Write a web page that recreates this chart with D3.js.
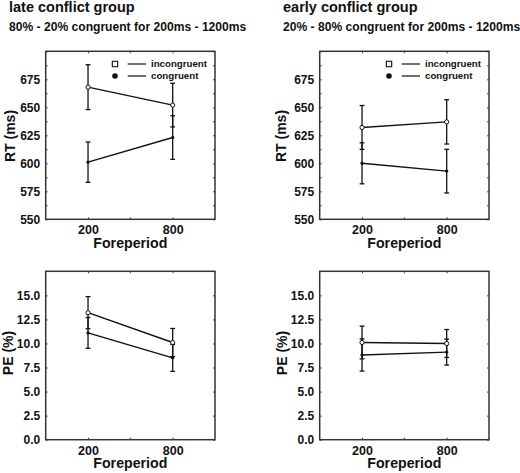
<!DOCTYPE html>
<html>
<head>
<meta charset="utf-8">
<script src="https://cdn.jsdelivr.net/npm/d3@7"></script>
<style>
  body { margin: 0; background: #fff; }
  svg { display: block; }
  text { font-family: "Liberation Sans", Arial, Helvetica, sans-serif; font-weight: bold; fill: #111; }
</style>
</head>
<body>
<svg id="chart" width="520" height="473"></svg>
<script>
// ---- data ----
const categories = ["200", "800"];
const rtTicks = [550, 575, 600, 625, 650, 675];
const rtMinorTicks = [550, 562.5, 575, 587.5, 600, 612.5, 625, 637.5, 650, 662.5, 675, 687.5, 700];
const peTicks = [0.0, 2.5, 5.0, 7.5, 10.0, 12.5, 15.0];
const seriesNames = ["incongruent", "congruent"];

const lateRtInc = [668, 652];
const lateRtIncErr = [20, 19.5];
const lateRtCon = [601, 623];
const lateRtConErr = [18, 19.5];

const earlyRtInc = [632, 637];
const earlyRtIncErr = [19.6, 19.8];
const earlyRtCon = [600, 593];
const earlyRtConErr = [18.3, 19.5];

const latePeInc = [13.2, 10.1];
const latePeIncErr = [1.67, 1.46];
const latePeCon = [11.1, 8.5];
const latePeConErr = [1.6, 1.4];

const earlyPeInc = [10.1, 10.0];
const earlyPeIncErr = [1.7, 1.45];
const earlyPeCon = [8.8, 9.1];
const earlyPeConErr = [1.67, 1.35];

const titles = ["late conflict group", "early conflict group"];
const subtitles = ["80% - 20% congruent for 200ms - 1200ms", "20% - 80% congruent for 200ms - 1200ms"];

// ---- layout ----
const svg = d3.select("#chart");
const panels = [
  {x0: 45.7, x1: 215, y0: 51.3, y1: 219.3, domain: [550, 700], ticks: rtTicks, minor: rtMinorTicks, fmt: d3.format("d"), ylab: "RT (ms)", ylabX: 10, ylabY: 136, inc: lateRtInc, incErr: lateRtIncErr, con: lateRtCon, conErr: lateRtConErr, legend: true},
  {x0: 319.7, x1: 489, y0: 51.3, y1: 219.3, domain: [550, 700], ticks: rtTicks, minor: rtMinorTicks, fmt: d3.format("d"), ylab: "RT (ms)", ylabX: 280.5, ylabY: 136, inc: earlyRtInc, incErr: earlyRtIncErr, con: earlyRtCon, conErr: earlyRtConErr, legend: true},
  {x0: 45.7, x1: 215, y0: 271.3, y1: 439.7, domain: [0, 17.5], ticks: peTicks, minor: peTicks, fmt: d3.format(".1f"), ylab: "PE (%)", ylabX: 7.5, ylabY: 353, inc: latePeInc, incErr: latePeIncErr, con: latePeCon, conErr: latePeConErr, legend: false},
  {x0: 319.7, x1: 489, y0: 271.3, y1: 439.7, domain: [0, 17.5], ticks: peTicks, minor: peTicks, fmt: d3.format(".1f"), ylab: "PE (%)", ylabX: 282, ylabY: 353, inc: earlyPeInc, incErr: earlyPeIncErr, con: earlyPeCon, conErr: earlyPeConErr, legend: false}
];

// titles
[9, 283].forEach((tx, i) => {
  svg.append("text").attr("x", tx).attr("y", 12).attr("font-size", 14.5).text(titles[i]);
  svg.append("text").attr("x", tx).attr("y", 30.5).attr("font-size", 12.1).text(subtitles[i]);
});

panels.forEach(p => {
  const x = d3.scalePoint().domain(categories).range([p.x0, p.x1]).padding(0.5);
  const y = d3.scaleLinear().domain(p.domain).range([p.y1, p.y0]);
  const g = svg.append("g");

  // minor inward ticks left and right
  g.append("g").attr("transform", `translate(${p.x0},0)`)
    .call(d3.axisLeft(y).tickValues(p.minor).tickSizeInner(-2).tickSizeOuter(0).tickFormat(""));
  g.append("g").attr("transform", `translate(${p.x1},0)`)
    .call(d3.axisRight(y).tickValues(p.minor).tickSizeInner(-2).tickSizeOuter(0).tickFormat(""));
  // labels
  const aLab = g.append("g").attr("transform", `translate(${p.x0},0)`)
    .call(d3.axisLeft(y).tickValues(p.ticks).tickSize(0).tickPadding(5.5).tickFormat(p.fmt));
  aLab.selectAll("text").attr("font-size", 12).style("font-family", "Liberation Sans, Arial, sans-serif").style("font-weight", "bold").attr("fill", "#111");

  // x ticks: category points plus mid
  const mid = (p.x0 + p.x1) / 2;
  const aB = g.append("g").attr("transform", `translate(0,${p.y1})`)
    .call(d3.axisBottom(x).tickSizeInner(-2).tickSizeOuter(0).tickPadding(6));
  aB.selectAll("text").attr("font-size", 12.5).style("font-family", "Liberation Sans, Arial, sans-serif").style("font-weight", "bold").attr("fill", "#111").attr("dy", "0.71em");
  g.append("g").attr("transform", `translate(0,${p.y0})`)
    .call(d3.axisTop(x).tickSizeInner(-2).tickSizeOuter(0).tickFormat(""));
  [p.y0, p.y1].forEach(yy => {
    g.append("line").attr("x1", mid).attr("x2", mid).attr("y1", yy).attr("y2", yy === p.y0 ? yy + 2 : yy - 2).attr("stroke", "#444");
  });
  g.selectAll(".domain").remove();
  g.selectAll(".tick line").attr("stroke", "#444").attr("stroke-width", 1);

  // frame
  g.append("rect").attr("x", p.x0).attr("y", p.y0).attr("width", p.x1 - p.x0).attr("height", p.y1 - p.y0)
    .attr("fill", "none").attr("stroke", "#333").attr("stroke-width", 1.5);

  // axis titles
  g.append("text").attr("x", mid).attr("y", p.y1 + 28.5).attr("text-anchor", "middle").attr("font-size", 14.2).text("Foreperiod");
  g.append("text").attr("transform", `translate(${p.ylabX},${p.ylabY}) rotate(-90)`).attr("text-anchor", "middle")
    .attr("dominant-baseline", "central").attr("font-size", 14).text(p.ylab);

  // series
  const series = [
    {vals: p.con, errs: p.conErr, open: false},
    {vals: p.inc, errs: p.incErr, open: true}
  ];
  const line = d3.line().x((d, i) => x(categories[i])).y(d => y(d));
  series.forEach(s => {
    s.vals.forEach((v, i) => {
      const cx = x(categories[i]);
      const lo = y(v - s.errs[i]), hi = y(v + s.errs[i]);
      g.append("line").attr("x1", cx).attr("x2", cx).attr("y1", lo).attr("y2", hi).attr("stroke", "#111").attr("stroke-width", 1.3);
      [lo, hi].forEach(yy => g.append("line").attr("x1", cx - 2.4).attr("x2", cx + 2.4).attr("y1", yy).attr("y2", yy).attr("stroke", "#111").attr("stroke-width", 1.3));
    });
    g.append("path").datum(s.vals).attr("d", line).attr("fill", "none").attr("stroke", "#111").attr("stroke-width", 1.4);
  });
  series.forEach(s => {
    g.selectAll(null).data(s.vals).enter().append("circle")
      .attr("cx", (d, i) => x(categories[i])).attr("cy", d => y(d))
      .attr("r", s.open ? 2.1 : 1.2)
      .attr("fill", s.open ? "#fff" : "#111").attr("stroke", "#111").attr("stroke-width", 1);
  });

  // legend
  if (p.legend) {
    const lx = p.x0 + 69.3;
    const rows = [p.y0 + 12.7, p.y0 + 24.7];
    g.append("rect").attr("x", lx - 2.7).attr("y", rows[0] - 2.7).attr("width", 5.4).attr("height", 5.4)
      .attr("fill", "#fff").attr("stroke", "#111").attr("stroke-width", 1.1);
    g.append("circle").attr("cx", lx).attr("cy", rows[1]).attr("r", 2.8).attr("fill", "#111");
    rows.forEach((ry, i) => {
      g.append("line").attr("x1", lx + 12.7).attr("x2", lx + 31).attr("y1", ry).attr("y2", ry).attr("stroke", "#111").attr("stroke-width", 1.2);
      g.append("text").attr("x", lx + 36).attr("y", ry).attr("dy", "0.35em").attr("font-size", 9.7).text(seriesNames[i]);
    });
  }
});
</script>
</body>
</html>
